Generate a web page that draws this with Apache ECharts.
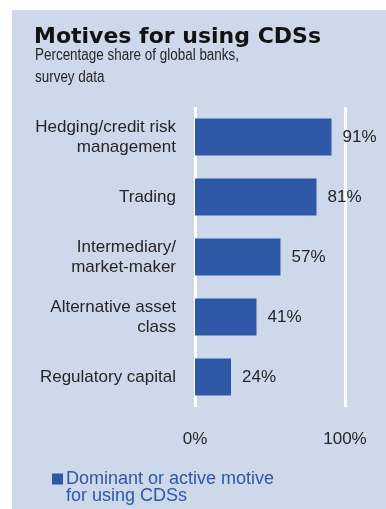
<!DOCTYPE html>
<html>
<head>
<meta charset="utf-8">
<script src="https://cdn.jsdelivr.net/npm/echarts@6/dist/echarts.min.js"></script>
<style>
  html, body { margin: 0; padding: 0; background: #ffffff; }
  #chart { width: 386px; height: 509px; }
</style>
</head>
<body>
<div id="chart"></div>
<script>
// Survey motives (share of global banks, %)
const categories = [
  'Hedging/credit risk\nmanagement',
  'Trading',
  'Intermediary/\nmarket-maker',
  'Alternative asset\nclass',
  'Regulatory capital'
];
const shares = [91, 81, 57, 41, 24];
const seriesName = 'Dominant or active motive\nfor using CDSs';
const xTicks = [0, 100];

const FONT = "'Liberation Sans', Arial, sans-serif";
const BLUE = '#2f58a6';
const PANEL = '#cdd8ea';
const INK = '#262626';

const chart = echarts.init(document.getElementById('chart'), null, { renderer: 'canvas' });

chart.setOption({
  backgroundColor: '#ffffff',
  animation: false,
  graphic: [
    { type: 'rect', z: -10, shape: { x: 12, y: 10, width: 374, height: 499 }, style: { fill: PANEL } },
    {
      type: 'text', x: 34, y: 26,
      style: { text: 'Motives for using CDSs', font: "bold 22px 'DejaVu Sans', sans-serif", fill: '#121212', verticalAlign: 'top' }
    },
    {
      type: 'text', x: 35, y: 45, scaleX: 0.84,
      style: { text: 'Percentage share of global banks,\nsurvey data', font: '16px ' + FONT, lineHeight: 22, fill: INK, verticalAlign: 'top' }
    }
  ],
  grid: { left: 195, right: 41, top: 107, bottom: 102, containLabel: false },
  xAxis: {
    type: 'value',
    min: xTicks[0],
    max: xTicks[xTicks.length - 1],
    interval: 100,
    axisLine: { show: false },
    axisTick: { show: false },
    splitLine: { show: true, lineStyle: { color: '#ffffff', width: 3 } },
    axisLabel: {
      margin: 24,
      fontFamily: FONT,
      fontSize: 17,
      color: INK,
      formatter: v => v + '%'
    }
  },
  yAxis: {
    type: 'category',
    data: categories,
    inverse: true,
    axisLine: { show: false },
    axisTick: { show: false },
    axisLabel: {
      margin: 19,
      fontFamily: FONT,
      fontSize: 17,
      lineHeight: 20,
      color: INK,
      align: 'right'
    }
  },
  legend: {
    left: 52,
    top: 453,
    padding: 0,
    itemWidth: 11,
    itemHeight: 11,
    icon: 'rect',
    // leading blank line keeps the swatch level with the first text line
    formatter: name => '\n' + name,
    textStyle: { fontFamily: FONT, fontSize: 18, lineHeight: 17, color: BLUE, padding: [0, 0, 0, -2] },
    data: [seriesName]
  },
  series: [{
    name: seriesName,
    type: 'bar',
    data: shares,
    barWidth: 37,
    itemStyle: { color: BLUE },
    label: {
      show: true,
      position: 'right',
      distance: 11,
      fontFamily: FONT,
      fontSize: 17,
      color: INK,
      formatter: p => p.value + '%'
    }
  }]
});
</script>
</body>
</html>
